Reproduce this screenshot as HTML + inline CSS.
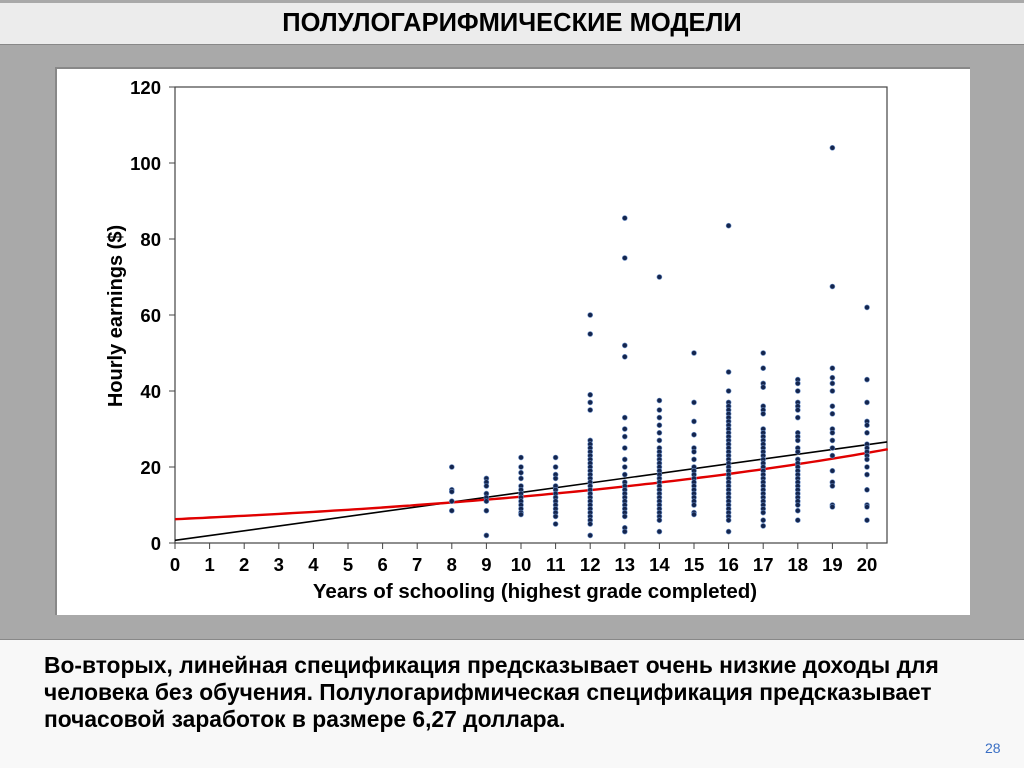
<!DOCTYPE html>
<html><head><meta charset="utf-8"><style>
body{margin:0;width:1024px;height:767px;background:#a9a9a9;position:relative;overflow:hidden;font-family:"Liberation Sans",Arial,sans-serif}
#title{position:absolute;left:0;top:3px;width:1024px;height:41px;background:#ececec;border-bottom:1px solid #888;text-align:center;font-weight:bold;font-size:25.5px;line-height:40px;color:#000}
#panel{position:absolute;left:55px;top:67px;width:913px;height:546px;background:#fff;border-top:2px solid #888;border-left:2px solid #888}
#bottom{position:absolute;left:0;top:639px;width:1024px;height:128px;background:#f8f8f8;border-top:1px solid #888}
#txt{position:absolute;left:44px;top:652px;font-weight:bold;font-size:22.8px;line-height:27px;color:#000;white-space:nowrap}
#pg{position:absolute;left:985px;top:740px;font-size:14px;color:#3a6fc4}
svg{position:absolute;left:0;top:0}
</style></head><body>
<div id="title">ПОЛУЛОГАРИФМИЧЕСКИЕ МОДЕЛИ</div>
<div id="panel"></div>
<div id="bottom"></div>
<div id="txt">Во-вторых, линейная спецификация предсказывает очень низкие доходы для<br>человека без обучения. Полулогарифмическая спецификация предсказывает<br>почасовой заработок в размере 6,27 доллара.</div>
<div id="pg">28</div>
<svg id="s" width="1024" height="767" xmlns="http://www.w3.org/2000/svg" font-family="Liberation Sans, Arial, sans-serif" font-weight="bold">
<rect x="175" y="87" width="712" height="456" fill="none" stroke="#444" stroke-width="1.2"/>
<text x="535" y="598" font-size="20.5" text-anchor="middle">Years of schooling (highest grade completed)</text>
<text transform="translate(122,316) rotate(-90)" font-size="20" text-anchor="middle">Hourly earnings ($)</text>
<g id="ax"></g><g id="dots"></g>
</svg>
<script>
var X=function(s){return 175+34.6*s},Y=function(v){return 543-3.8*v};
var ax=document.getElementById('ax'),h='';
for(var v=0;v<=120;v+=20){h+='<line x1="169" x2="175" y1="'+Y(v)+'" y2="'+Y(v)+'" stroke="#444"/><text x="161" y="'+(Y(v)+7)+'" font-size="18.5" text-anchor="end">'+v+'</text>';}
for(var s=0;s<=20;s++){h+='<line x1="'+X(s)+'" x2="'+X(s)+'" y1="543" y2="549" stroke="#444"/><text x="'+X(s)+'" y="571" font-size="18.5" text-anchor="middle">'+s+'</text>';}
var d={8:[20,14,13.5,8.5,11],9:[17,16,13,12,11,8.5,2,15],10:[22.5,20,18.5,17,15,14,13,12,11,10,9,8,7.5],11:[22.5,20,18,17,15,14,13,12,11,10,9,8,7,5],
12:[60,55,39,37,35,27,26,25,24,23,22,21,20,19,18,17,16,15,14,13,12,11,10,9,8,7,6,5,2],13:[85.5,75,52,49,33,30,28,25,22,20,18,16,15,14,13,12,11,10,9,8,7,4,3],
14:[70,37.5,35,33,31,29,27,25,24,23,22,21,20,19,18,17,16,15,14,13,12,11,10,9,8,7,6,3],15:[50,37,32,28.5,25,24,22,20,19,18,17,16,15,14,13,12,11,10,8,7.5],
16:[83.5,45,40,37,36,35,34,33,32,31,30,29,28,27,26,25,24,23,22,21,20,19,18,17,16,15,14,13,12,11,10,9,8,7,6,3],
17:[50,46,42,41,36,35,34,30,29,28,27,26,25,24,23,22,21,20,19,18,17,16,15,14,13,12,11,10,9,8,6,4.5],
18:[43,42,40,37,36,35,33,29,28,27,25,24,22,21,20,19,18,17,16,15,14,13,12,11,10,8.5,6],
19:[104,67.5,46,43.5,42,40,36,34,30,29,27,25,23,19,16,15,10,9.5],20:[62,43,37,32,31,29,26,25,24,23,22,20,18,14,10,9.5,6]};
var dh='';for(var k in d){d[k].forEach(function(v){dh+='<circle cx="'+X(+k)+'" cy="'+Y(v)+'" r="2.5" fill="#14254d" stroke="#6b8fc7" stroke-width="0.6"/>';});}
var p='';for(var t=0;t<=20.6;t+=0.2){p+=(t?'L':'M')+X(t).toFixed(1)+' '+Y(6.27*Math.exp(0.0665*t)).toFixed(1);}
h+='<line x1="'+X(0)+'" y1="'+Y(0.7)+'" x2="'+X(20.58)+'" y2="'+Y(26.6)+'" stroke="#000" stroke-width="1.6"/>';
h+='<path d="'+p+'" fill="none" stroke="#e00000" stroke-width="2.4"/>';
ax.innerHTML=h;document.getElementById('dots').innerHTML=dh;
</script>
</body></html>
